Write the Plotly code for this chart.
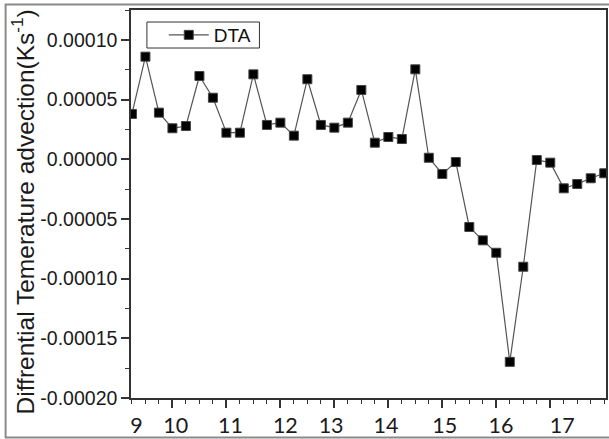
import plotly.graph_objects as go

# ---- data ----
x_index = list(range(36))
dta = [3.80e-5, 8.60e-5, 3.91e-5, 2.60e-5, 2.79e-5, 6.98e-5, 5.16e-5, 2.23e-5,
       2.23e-5, 7.12e-5, 2.88e-5, 3.07e-5, 1.98e-5, 6.71e-5, 2.88e-5, 2.65e-5,
       3.07e-5, 5.81e-5, 1.39e-5, 1.87e-5, 1.70e-5, 7.54e-5, 0.13e-5, -1.23e-5,
       -0.23e-5, -5.67e-5, -6.79e-5, -7.83e-5, -16.97e-5, -9.00e-5, -0.06e-5, -0.28e-5,
       -2.43e-5, -2.07e-5, -1.59e-5, -1.17e-5]

x_major_ticks = [3, 7, 11, 15, 19, 23, 27, 31]
x_label_pos = [0.34, 3.25, 7.31, 11.37, 14.76, 18.82, 23.18, 27.35, 31.89]
x_label_text = ["9", "10", "11", "12", "13", "14", "15", "16", "17"]

y_tick_vals = [0.0001, 0.00005, 0.0, -0.00005, -0.0001, -0.00015, -0.0002]
y_tick_text = ["0.00010", "0.00005", "0.00000", "-0.00005", "-0.00010", "-0.00015", "-0.00020"]
y_title = "Diffrential Temerature advection(Ks<sup>-1</sup>)"

x_range = [-0.07, 35.13]
y_range = [-0.0002, 0.0001251]

AX = "#333333"
FONT = "Liberation Sans"

fig = go.Figure()
fig.add_trace(go.Scatter(
    x=x_index, y=dta, mode="lines+markers", name="DTA",
    line=dict(color="#555555", width=1.2),
    marker=dict(symbol="square", size=9, color="black", line=dict(color="#444444", width=1)),
))
# invisible trace to host the label axis
fig.add_trace(go.Scatter(x=[x_range[0]], y=[0], xaxis="x2", mode="markers",
                         marker=dict(opacity=0), showlegend=False, hoverinfo="skip"))

fig.update_layout(
    width=609, height=439,
    margin=dict(l=131, r=1, t=10, b=41),
    paper_bgcolor="white", plot_bgcolor="white",
    showlegend=True,
    legend=dict(x=0.069, y=0.9845, xanchor="left", yanchor="top",
                borderwidth=0, bgcolor="rgba(0,0,0,0)",
                font=dict(family=FONT, size=19, color="#111111"),
                itemwidth=40, tracegroupgap=0),
    xaxis=dict(range=x_range, showgrid=False, zeroline=False,
               showline=True, linecolor=AX, linewidth=1.5, mirror=True,
               tickmode="array", tickvals=x_major_ticks, showticklabels=False,
               ticks="outside", ticklen=8, tickwidth=1.5, tickcolor=AX,
               minor=dict(dtick=1, tick0=0, ticks="outside", ticklen=4, tickwidth=1.2, tickcolor=AX)),
    xaxis2=dict(range=x_range, overlaying="x", anchor="y", side="bottom",
                showgrid=False, zeroline=False, showline=False,
                tickmode="array", tickvals=x_label_pos, ticktext=x_label_text,
                ticks="", ticklabelstandoff=12,
                tickfont=dict(family="Lato", size=21.5, color="#1a1a1a")),
    yaxis=dict(range=y_range, showgrid=False, zeroline=False,
               showline=True, linecolor=AX, linewidth=1.5, mirror=True,
               tickmode="array", tickvals=y_tick_vals, ticktext=y_tick_text,
               ticks="outside", ticklen=8, tickwidth=1.5, tickcolor=AX,
               minor=dict(dtick=0.000025, tick0=0, ticks="outside", ticklen=4, tickwidth=1.2, tickcolor=AX),
               tickfont=dict(family=FONT, size=19.5, color="#1a1a1a")),
)

# y-axis title
fig.add_annotation(text=y_title, xref="paper", yref="paper",
                   x=-0.2275, y=0.4807, xanchor="center", yanchor="middle",
                   textangle=-90, showarrow=False,
                   font=dict(family=FONT, size=24.5, color="#1a1a1a"))

# legend box
fig.add_shape(type="rect", xref="paper", yref="paper",
              x0=0.0335, x1=0.2704, y0=0.902, y1=0.969,
              line=dict(color=AX, width=1), fillcolor="rgba(0,0,0,0)", layer="above")

# outer gray frame
fig.add_shape(type="rect", xref="paper", yref="paper",
              x0=-0.264, x1=1.01, y0=-0.102, y1=1.014,
              line=dict(color="#8a8a8a", width=2), fillcolor="rgba(0,0,0,0)", layer="below")

fig.write_html("out.html")
